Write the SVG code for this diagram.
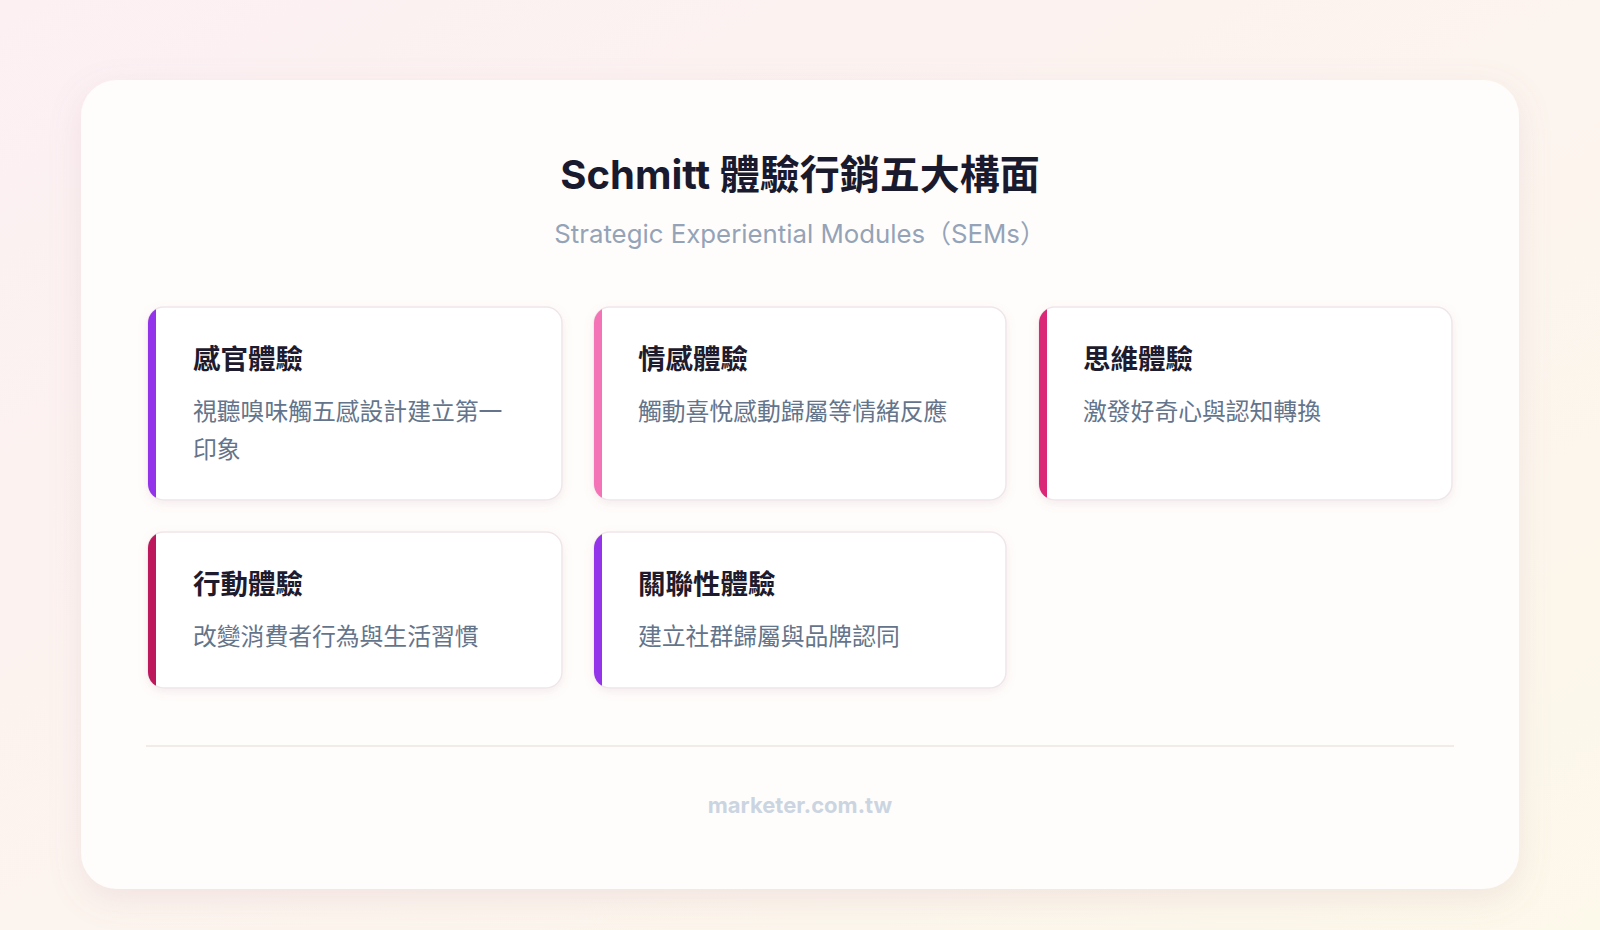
<svg xmlns="http://www.w3.org/2000/svg" width="1600" height="930" viewBox="0 0 1600 930">
<defs>
<linearGradient id="bg" x1="0" y1="0" x2="1" y2="1"><stop offset="0" stop-color="#fcf0f3"/><stop offset="1" stop-color="#fcf8ea"/></linearGradient>
<filter id="sh" x="-10%" y="-10%" width="120%" height="130%"><feDropShadow dx="0" dy="10" stdDeviation="16" flood-color="#b08090" flood-opacity="0.15"/></filter>
<filter id="sh2" x="-10%" y="-10%" width="120%" height="130%"><feDropShadow dx="0" dy="3" stdDeviation="5" flood-color="#a07080" flood-opacity="0.12"/></filter>
<clipPath id="c1"><rect x="148" y="307" width="414" height="193" rx="16"/></clipPath>
<clipPath id="c2"><rect x="594" y="307" width="412" height="193" rx="16"/></clipPath>
<clipPath id="c3"><rect x="1039" y="307" width="413" height="193" rx="16"/></clipPath>
<clipPath id="c4"><rect x="148" y="532" width="414" height="156" rx="16"/></clipPath>
<clipPath id="c5"><rect x="594" y="532" width="412" height="156" rx="16"/></clipPath>
</defs>
<style>
.card{fill:#fff;stroke:#f0e6ea;stroke-width:1.5}
.h{font-family:"Noto Sans CJK TC","Noto Sans",sans-serif;font-size:27.5px;font-weight:700;fill:#1e1b2e}
.d{font-family:"Noto Sans CJK TC","Noto Sans",sans-serif;font-size:23.8px;fill:#64748b}
</style>
<rect width="1600" height="930" fill="url(#bg)"/>
<rect x="81" y="80" width="1438" height="809" rx="36" fill="#fffdfb" filter="url(#sh)"/>
<text x="800" y="189" text-anchor="middle" font-family="Inter,'Noto Sans CJK TC',sans-serif" font-size="40" font-weight="700" fill="#1a1a2e">Schmitt 體驗行銷五大構面</text>
<text x="800" y="243" text-anchor="middle" font-family="Inter,'Noto Sans CJK TC',sans-serif" font-size="25.8" fill="#94a3b8">Strategic Experiential Modules（SEMs）</text>
<g id="n1"><rect class="card" x="148" y="307" width="414" height="193" rx="16" filter="url(#sh2)"/><rect x="148" y="307" width="8" height="193" fill="#9333ea" clip-path="url(#c1)"/><text class="h" x="193" y="369">感官體驗</text><text class="d" x="193" y="420">視聽嗅味觸五感設計建立第一</text><text class="d" x="193" y="458">印象</text></g>
<g id="n2"><rect class="card" x="594" y="307" width="412" height="193" rx="16" filter="url(#sh2)"/><rect x="594" y="307" width="8" height="193" fill="#f472b6" clip-path="url(#c2)"/><text class="h" x="638" y="369">情感體驗</text><text class="d" x="638" y="420">觸動喜悅感動歸屬等情緒反應</text></g>
<g id="n3"><rect class="card" x="1039" y="307" width="413" height="193" rx="16" filter="url(#sh2)"/><rect x="1039" y="307" width="8" height="193" fill="#db2777" clip-path="url(#c3)"/><text class="h" x="1083" y="369">思維體驗</text><text class="d" x="1083" y="420">激發好奇心與認知轉換</text></g>
<g id="n4"><rect class="card" x="148" y="532" width="414" height="156" rx="16" filter="url(#sh2)"/><rect x="148" y="532" width="8" height="156" fill="#be185d" clip-path="url(#c4)"/><text class="h" x="193" y="594">行動體驗</text><text class="d" x="193" y="645">改變消費者行為與生活習慣</text></g>
<g id="n5"><rect class="card" x="594" y="532" width="412" height="156" rx="16" filter="url(#sh2)"/><rect x="594" y="532" width="8" height="156" fill="#9333ea" clip-path="url(#c5)"/><text class="h" x="638" y="594">關聯性體驗</text><text class="d" x="638" y="645">建立社群歸屬與品牌認同</text></g>
<g id="connectors"></g>
<line x1="146" y1="746" x2="1454" y2="746" stroke="#ece4e4" stroke-width="1.5"/>
<text x="800" y="813" text-anchor="middle" font-family="Inter,sans-serif" font-size="22" font-weight="700" fill="#cbd5e1">marketer.com.tw</text>
</svg>
